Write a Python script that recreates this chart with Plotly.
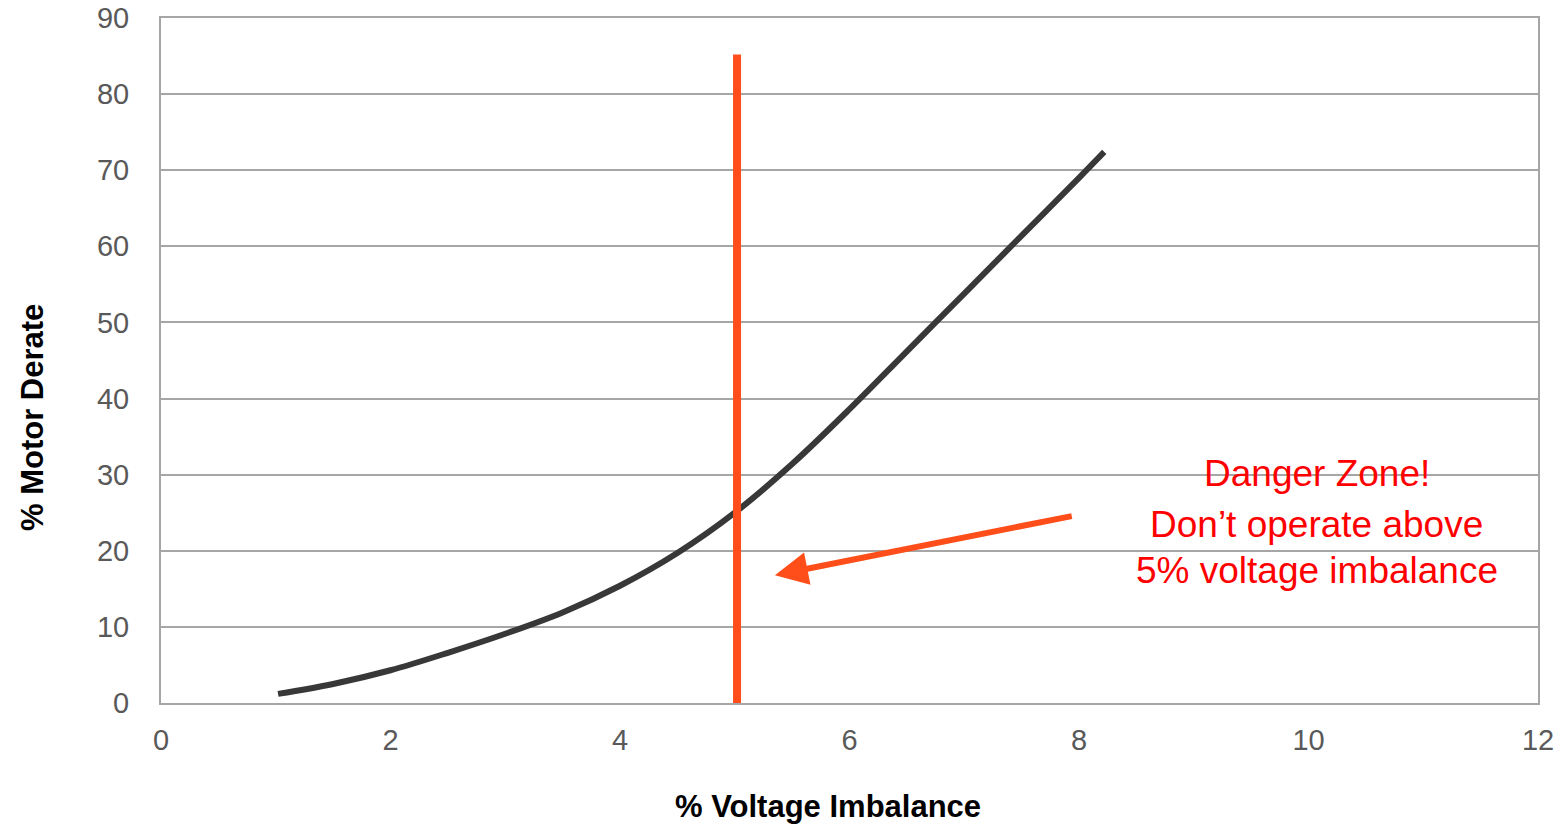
import plotly.graph_objects as go

imbalance = [1.02, 1.5, 2.0, 2.5, 3.0, 3.5, 4.0, 4.5, 5.0, 5.5, 6.0, 6.5, 7.0, 7.5, 8.0, 8.22]
derate = [1.2, 2.5, 4.3, 6.6, 9.1, 11.9, 15.4, 19.7, 25.0, 31.4, 38.6, 46.2, 53.8, 61.4, 69.0, 72.4]

limit_x = [5.02, 5.02]
limit_y = [0, 85.2]

arrow_tail = (7.95, 24.6)
arrow_head = (5.35, 16.8)

x_ticks = [0, 2, 4, 6, 8, 10, 12]
y_ticks = [0, 10, 20, 30, 40, 50, 60, 70, 80, 90]

note_lines = ["Danger Zone!", "Don\u2019t operate above", "5% voltage imbalance"]
note_y = [30.2, 23.4, 17.4]
note_x = 10.07

FONT = "Liberation Sans, Arial"

fig = go.Figure()
fig.add_trace(go.Scatter(x=imbalance, y=derate, mode="lines",
                         line=dict(color="#383838", width=6, shape="spline", smoothing=1.0),
                         showlegend=False, hoverinfo="skip"))
fig.add_trace(go.Scatter(x=limit_x, y=limit_y, mode="lines",
                         line=dict(color="#FF4E1A", width=8),
                         showlegend=False, hoverinfo="skip"))

fig.add_annotation(x=arrow_head[0], y=arrow_head[1], ax=arrow_tail[0], ay=arrow_tail[1],
                   xref="x", yref="y", axref="x", ayref="y", text="",
                   showarrow=True, arrowhead=2, arrowsize=1.1, arrowwidth=6,
                   arrowcolor="#FF4E1A", standoff=0)

for t, yy in zip(note_lines, note_y):
    fig.add_annotation(x=note_x, y=yy, xref="x", yref="y", text=t, showarrow=False,
                       font=dict(family=FONT, size=37, color="#FF0000"),
                       xanchor="center", yanchor="middle")

# axis titles
fig.add_annotation(x=0.4844, y=0, xref="paper", yref="paper", yshift=-103,
                   text="<b>% Voltage Imbalance</b>", showarrow=False,
                   xanchor="center", yanchor="middle",
                   font=dict(family=FONT, size=31, color="#000000"))
fig.add_annotation(x=0, y=0.416, xref="paper", yref="paper", xshift=-129,
                   text="<b>% Motor Derate</b>", showarrow=False, textangle=-90,
                   xanchor="center", yanchor="middle",
                   font=dict(family=FONT, size=31, color="#000000"))

fig.update_layout(
    width=1563, height=824,
    margin=dict(l=161, r=25, t=18, b=121),
    plot_bgcolor="white", paper_bgcolor="white",
    font=dict(family=FONT, color="#595959"),
)
fig.update_xaxes(range=[0, 12], tickvals=x_ticks, showgrid=False, automargin=False,
                 showline=True, linecolor="#A6A6A6", linewidth=2, mirror=True,
                 ticks="", zeroline=False, ticklabelstandoff=10,
                 tickfont=dict(size=29, color="#595959"))
fig.update_yaxes(range=[0, 90], tickvals=y_ticks, showgrid=True, gridcolor="#A6A6A6",
                 gridwidth=1.5, showline=True, linecolor="#A6A6A6", linewidth=2, mirror=True,
                 ticks="", zeroline=False, ticklabelstandoff=24, automargin=False,
                 tickfont=dict(size=29, color="#595959"))

fig.write_html("out.html")
